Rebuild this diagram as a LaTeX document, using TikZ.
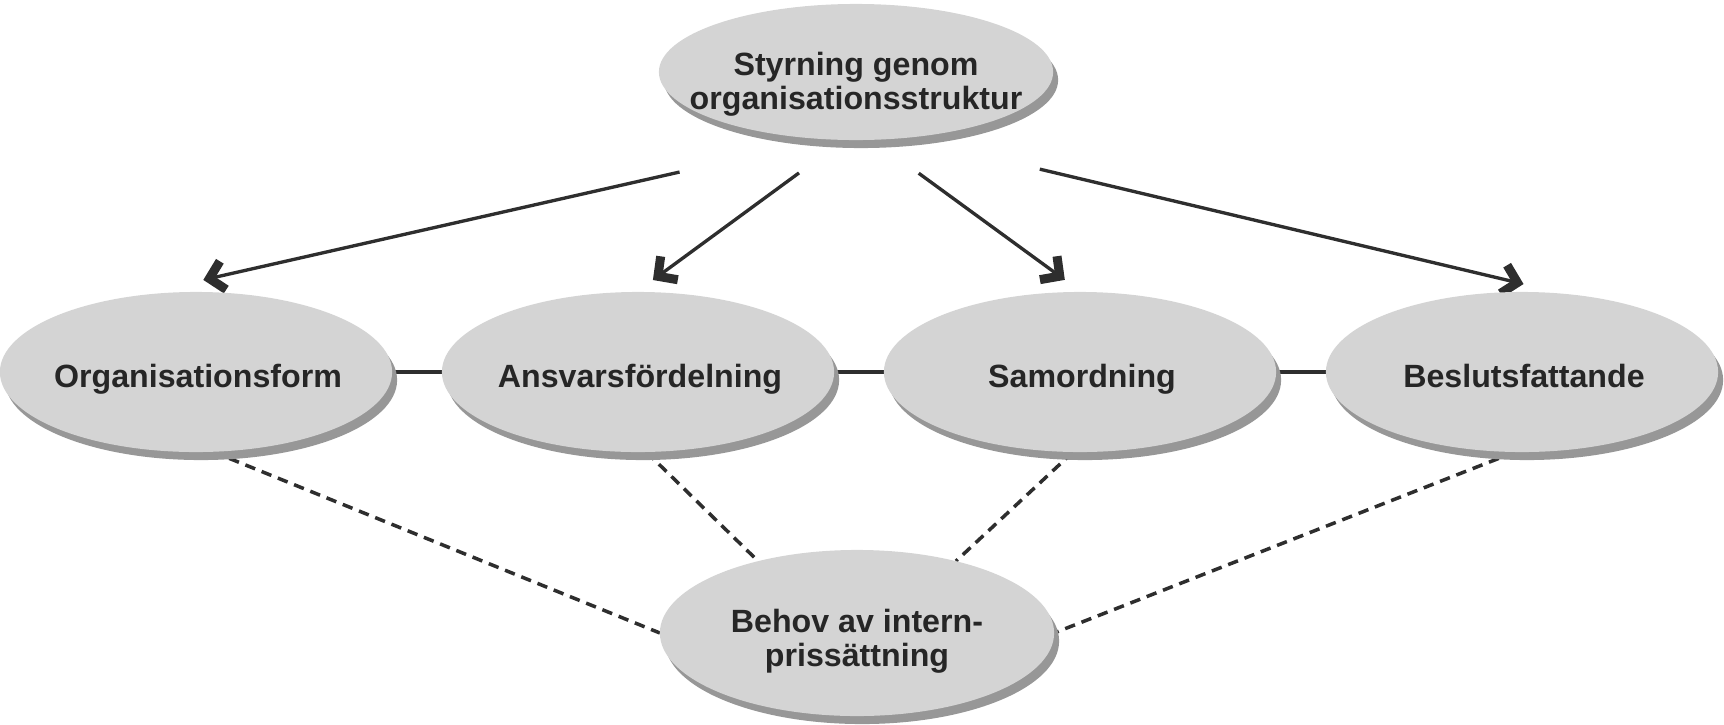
\documentclass[tikz,border=0pt]{standalone}
\usepackage{fontspec}
\setmainfont{Liberation Sans}
\usetikzlibrary{shapes.geometric,shadows,arrows.meta,calc}
\definecolor{ellfill}{HTML}{D4D4D4}
\definecolor{shadowgray}{HTML}{979797}
\definecolor{linecol}{HTML}{2E2E2E}
\definecolor{txtcol}{HTML}{262626}
\pgfdeclarelayer{bg}
\pgfsetlayers{bg,main}
\begin{document}
\begin{tikzpicture}[x=0.01cm,y=-0.01cm,
  blob/.style={ellipse, fill=ellfill, inner sep=0pt, outer sep=0pt,
    minimum width=3.92cm, minimum height=1.60cm,
    drop shadow={shadow xshift=0.05cm, shadow yshift=-0.08cm, fill=shadowgray, opacity=1}},
  txt/.style={text=txtcol, font=\bfseries\fontsize{9.15pt}{9.8pt}\selectfont, align=center, inner sep=0pt},
  arr/.style={draw=linecol, line width=0.95pt,
    -{Straight Barb[length=0.14cm,width=0.29cm,line width=0.09cm,sharp]}},
  dashline/.style={draw=linecol, line width=1pt, dash pattern=on 0.105cm off 0.07cm},
  link/.style={draw=linecol, line width=0.95pt}
]
\useasboundingbox (0,0) rectangle (1724,724);

% ellipses
\node[blob, minimum width=3.94cm, minimum height=1.36cm] (top) at (856,72) {};
\node[blob] (org) at (196,372) {};
\node[blob] (ans) at (638,372) {};
\node[blob] (sam) at (1080,372) {};
\node[blob] (bes) at (1522,372) {};
\node[blob, minimum width=3.94cm, minimum height=1.66cm] (beh) at (857,633) {};

% texts
\node[txt, font=\bfseries\fontsize{9.15pt}{8.55pt}\selectfont] (ttop) at (856,84) {Styrning genom\\organisationsstruktur};
\node[txt, anchor=base] (torg) at (198,387) {Organisationsform};
\node[txt, anchor=base] (tans) at (640,387) {Ansvarsfördelning};
\node[txt, anchor=base] (tsam) at (1082,387) {Samordning};
\node[txt, anchor=base] (tbes) at (1524,387) {Beslutsfattande};
\node[txt] (tbeh) at (857,641) {Behov av intern-\\prissättning};

% connectors
\begin{pgfonlayer}{bg}
\draw[arr, shorten <=1.487cm, shorten >=0.768cm] (top.245) -- (org.132);
\draw[arr, shorten <=0.558cm, shorten >=0.202cm] (top.260) -- (ans.91);
\draw[arr, shorten <=0.567cm, shorten >=0.205cm] (top.284) -- (sam.89);
\draw[arr, shorten <=1.361cm, shorten >=0.429cm] (top.308) -- (bes.61);

\draw[link] (org.east) -- (ans.west);
\draw[link] (ans.east) -- (sam.west);
\draw[link] (sam.east) -- (bes.west);

\draw[dashline] (org.282) -- (beh.180);
\draw[dashline] (ans.276) -- (beh.144);
\draw[dashline] (sam.265) -- (beh.36);
\draw[dashline] (bes.265) -- (beh.0);
\end{pgfonlayer}
\end{tikzpicture}
\end{document}
